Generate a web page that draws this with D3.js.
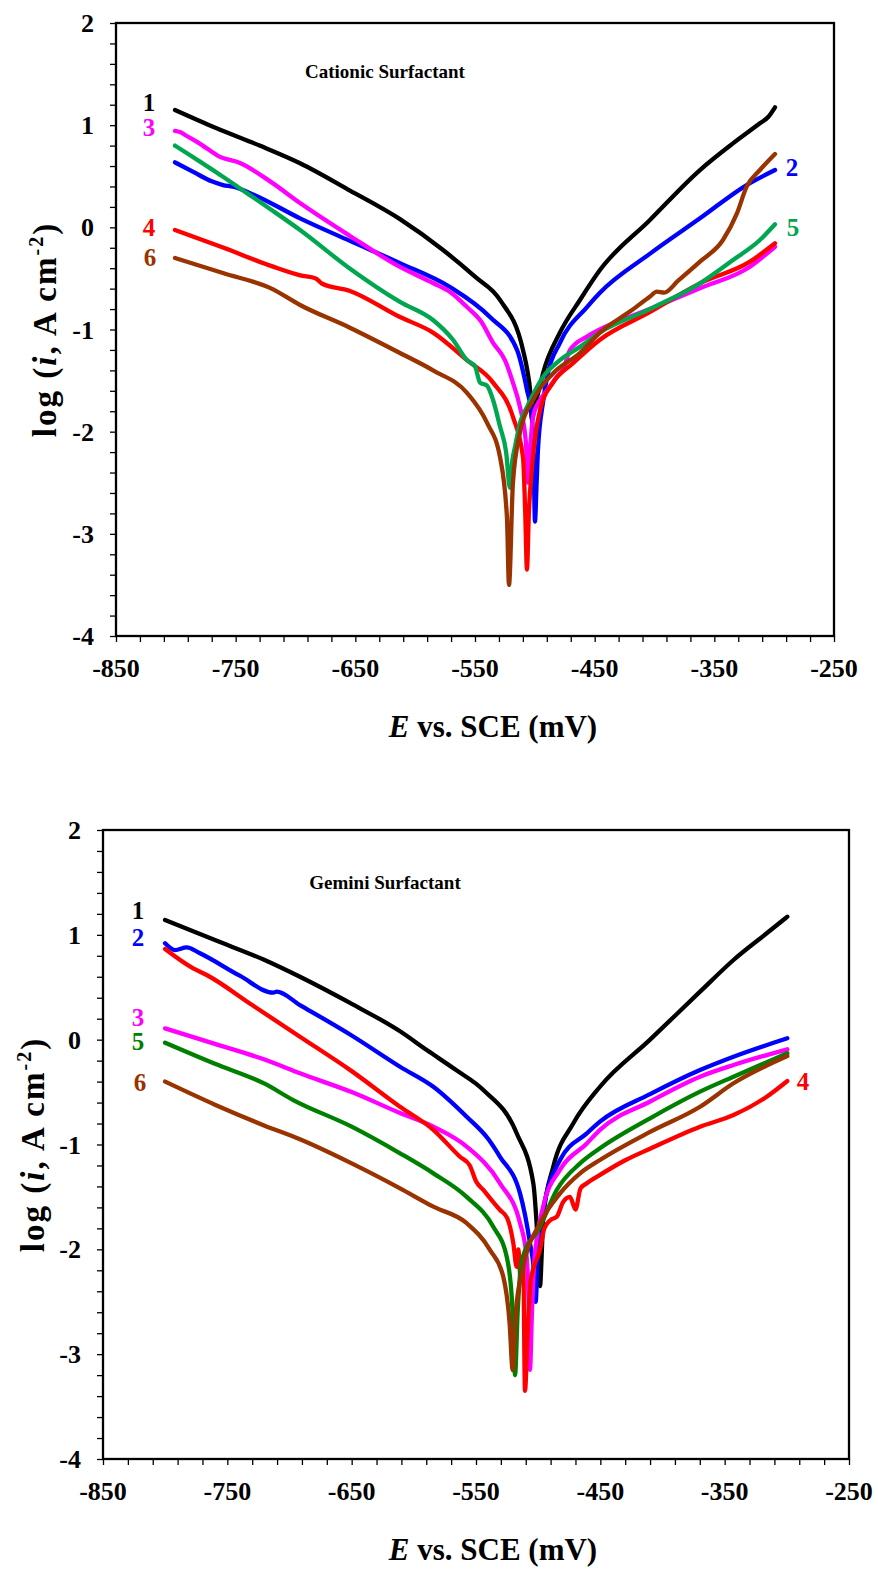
<!DOCTYPE html>
<html><head><meta charset="utf-8">
<script src="https://cdn.jsdelivr.net/npm/d3@7"></script>
<style>body{margin:0;background:#fff}svg{display:block}</style>
</head><body>
<svg id="c" width="878" height="1570"></svg>
<script>
// ---------- DATA ----------
const xTickValues = [-850,-750,-650,-550,-450,-350,-250];
const yTickValues = [2,1,0,-1,-2,-3,-4];
const seriesNames = ["1","2","3","4","5","6"];
const chartTitles = ["Cationic Surfactant","Gemini Surfactant"];

// Cationic surfactant  [E (mV), log i]
const cat1 = [[-800.7,1.148],[-765.9,0.969],[-730,0.80],[-696.2,0.627],[-654.5,0.36],[-612.7,0.08],[-576.7,-0.222],[-550,-0.483],[-529.1,-0.711],[-509.9,-1.2],[-506,-1.42],[-504,-1.59],[-502.4,-1.88],[-500,-1.75],[-495.7,-1.55],[-493.2,-1.43],[-479,-1.03],[-462.3,-0.711],[-445.6,-0.418],[-404,0.07],[-362,0.561],[-334.4,0.822],[-311.9,1.018],[-305,1.08],[-299.3,1.175]];
const cat2 = [[-800.7,0.636],[-785,0.54],[-770,0.45],[-760.6,0.414],[-752.2,0.398],[-735,0.32],[-696.2,0.088],[-655,-0.13],[-612.7,-0.35],[-570.9,-0.584],[-537.5,-0.878],[-514.9,-1.2],[-506.6,-1.59],[-502.4,-1.856],[-500.8,-2.4],[-499.9,-2.88],[-498.5,-2.5],[-497.4,-2.18],[-493,-1.7],[-489.8,-1.465],[-479,-1.13],[-456.4,-0.78],[-445.6,-0.64],[-404,-0.26],[-362,0.088],[-323,0.414],[-299.3,0.561]];
const cat3 = [[-800.7,0.943],[-796,0.93],[-792.3,0.904],[-780,0.82],[-763.1,0.69],[-746.4,0.63],[-720,0.44],[-696.2,0.238],[-655,-0.08],[-612.7,-0.388],[-585.1,-0.545],[-570,-0.64],[-556.7,-0.78],[-545,-0.92],[-534.9,-1.13],[-525,-1.30],[-518.3,-1.52],[-512.4,-1.76],[-507.5,-2.1],[-505.7,-2.5],[-503.5,-2.1],[-501.5,-1.85],[-495.7,-1.69],[-490,-1.60],[-481.5,-1.46],[-476,-1.38],[-470.6,-1.2],[-456.4,-1.07],[-445.6,-1.0],[-404,-0.80],[-362,-0.597],[-320.2,-0.385],[-299.3,-0.19]];
const cat4 = [[-800.7,-0.026],[-760,-0.2],[-720,-0.38],[-696,-0.47],[-683,-0.50],[-678,-0.55],[-655,-0.62],[-612.7,-0.878],[-585.1,-1.03],[-556.7,-1.3],[-534.9,-1.52],[-518.3,-1.856],[-509.9,-2.25],[-508,-2.8],[-506.6,-3.35],[-505,-2.8],[-502.4,-2.35],[-495.7,-1.79],[-484.8,-1.52],[-468.1,-1.33],[-445.6,-1.1],[-404,-0.83],[-362,-0.548],[-320.2,-0.336],[-299.3,-0.156]];
const cat5 = [[-800.7,0.80],[-790,0.72],[-779.8,0.643],[-760,0.49],[-740,0.33],[-720,0.17],[-696.2,-0.026],[-655,-0.40],[-612.7,-0.73],[-585.1,-0.907],[-568.4,-1.1],[-556.7,-1.3],[-550,-1.36],[-545.8,-1.52],[-540,-1.55],[-534.9,-1.69],[-529.1,-1.95],[-524,-2.2],[-520.8,-2.55],[-519,-2.3],[-516.6,-2.15],[-512,-1.9],[-506.6,-1.76],[-493.2,-1.465],[-479,-1.3],[-462.3,-1.17],[-445.6,-1.03],[-404,-0.80],[-362,-0.548],[-334.4,-0.32],[-311.9,-0.124],[-299.3,0.03]];
const cat6 = [[-800.7,-0.30],[-760,-0.45],[-720,-0.60],[-696.2,-0.76],[-655,-0.98],[-612.7,-1.23],[-585.1,-1.40],[-556.7,-1.62],[-539.9,-1.915],[-529.1,-2.25],[-523.3,-2.84],[-521.6,-3.5],[-518.3,-2.5],[-512.4,-2.01],[-501.5,-1.69],[-484.8,-1.43],[-462.3,-1.23],[-445.6,-1.03],[-420,-0.82],[-404,-0.68],[-398,-0.63],[-392,-0.64],[-380,-0.52],[-362,-0.336],[-342.8,-0.124],[-331.1,0.137],[-323,0.398],[-311.9,0.561],[-299.3,0.718]];

// Gemini surfactant
const gem1 = [[-800.1,1.141],[-760,0.95],[-720,0.76],[-691.6,0.60],[-651.3,0.35],[-611.1,0.08],[-589.6,-0.099],[-566,-0.29],[-544.1,-0.48],[-517.3,-0.893],[-503.9,-1.37],[-500.5,-1.9],[-498.5,-2.35],[-497,-2.0],[-495.9,-1.69],[-487.8,-1.21],[-471.7,-0.798],[-450.3,-0.449],[-410,0.0],[-369.8,0.458],[-342.9,0.76],[-316.2,1.015],[-299.6,1.173]];
const gem2 = [[-800.1,0.919],[-792.1,0.855],[-782.7,0.881],[-772,0.824],[-740,0.61],[-713,0.448],[-710.3,0.458],[-691.6,0.33],[-650,0.04],[-611.1,-0.258],[-584.3,-0.449],[-557.5,-0.735],[-540,-0.95],[-530.7,-1.117],[-514.6,-1.466],[-506.6,-1.94],[-503.5,-2.2],[-502,-2.5],[-500.5,-2.1],[-495.9,-1.625],[-482.4,-1.148],[-460.9,-0.894],[-450.3,-0.782],[-410,-0.52],[-369.8,-0.29],[-342.9,-0.163],[-299.6,0.013]];
const gem3 = [[-800.1,0.108],[-760,-0.04],[-720,-0.19],[-691.6,-0.321],[-650,-0.50],[-611.1,-0.70],[-584.3,-0.83],[-557.5,-1.02],[-530.7,-1.37],[-514.6,-1.75],[-509.3,-2.07],[-507.5,-2.6],[-506.6,-3.15],[-505,-2.6],[-503,-2.1],[-495.9,-1.59],[-482.4,-1.24],[-460.9,-0.99],[-450.3,-0.86],[-410,-0.59],[-369.8,-0.353],[-342.9,-0.242],[-299.6,-0.092]];
const gem4 = [[-800.1,0.865],[-777.4,0.68],[-766.6,0.617],[-730,0.33],[-691.6,0.028],[-650,-0.30],[-611.1,-0.64],[-584.3,-0.86],[-562.9,-1.117],[-555,-1.2],[-550,-1.35],[-544.1,-1.434],[-530.7,-1.625],[-525,-1.7],[-520,-1.94],[-517.3,-2.166],[-516,-2.0],[-514,-2.3],[-512,-2.15],[-510.6,-3.35],[-508.5,-2.8],[-506,-2.3],[-498.5,-2.0],[-495,-1.8],[-490,-1.72],[-485.1,-1.69],[-480,-1.55],[-474.4,-1.50],[-470,-1.62],[-466,-1.42],[-460.9,-1.37],[-450.3,-1.29],[-430,-1.15],[-410,-1.04],[-369.8,-0.83],[-342.9,-0.719],[-316.2,-0.544],[-299.6,-0.394]];
const gem5 = [[-800.1,-0.029],[-760,-0.23],[-720,-0.42],[-697,-0.576],[-650,-0.83],[-611.1,-1.084],[-584.3,-1.275],[-557.5,-1.50],[-536.1,-1.785],[-525.3,-2.07],[-521,-2.5],[-518.6,-3.2],[-516.5,-2.6],[-513,-2.1],[-498.5,-1.785],[-485.1,-1.434],[-466.3,-1.18],[-450.3,-1.036],[-410,-0.75],[-369.8,-0.496],[-342.9,-0.353],[-299.6,-0.13]];
const gem6 = [[-800.1,-0.40],[-760,-0.62],[-720,-0.82],[-691.6,-0.95],[-650,-1.18],[-611.1,-1.418],[-584.3,-1.593],[-557.5,-1.75],[-538.7,-2.007],[-528.1,-2.26],[-523,-2.7],[-520.5,-3.15],[-518,-2.6],[-512,-2.166],[-498.5,-1.75],[-482.4,-1.466],[-466.3,-1.275],[-450.3,-1.148],[-410,-0.88],[-369.8,-0.64],[-342.9,-0.416],[-299.6,-0.156]];

// ---------- STYLE ----------
const colorsTop = ["#000000","#0000ff","#ff00ff","#ff0000","#00a650","#993300"];
const colorsBot = ["#000000","#0000ff","#ff00ff","#ff0000","#008000","#993300"];
const FONT = "'Liberation Serif','Times New Roman',serif";

const svg = d3.select("#c");

function drawChart(o){
  const g = svg.append("g");
  const x = d3.scaleLinear().domain([-850,-250]).range([o.left,o.right]);
  const y = d3.scaleLinear().domain([-4,2]).range([o.bottom,o.top]);

  const xAxis = d3.axisBottom(x).tickValues(d3.range(-850,-249,20)).tickSize(6).tickFormat("");
  g.append("g").attr("transform",`translate(0,${o.bottom})`).call(xAxis)
    .call(s=>{s.select(".domain").remove();s.selectAll("line").attr("stroke","#000").attr("stroke-width",1.3);});
  const yAxis = d3.axisLeft(y).tickValues(d3.range(-4,2.01,0.2)).tickSize(6).tickFormat("");
  g.append("g").attr("transform",`translate(${o.left},0)`).call(yAxis)
    .call(s=>{s.select(".domain").remove();s.selectAll("line").attr("stroke","#000").attr("stroke-width",1.3);});

  g.selectAll(".xl").data(xTickValues).enter().append("text")
    .attr("x",d=>x(d)).attr("y",o.bottom+41).attr("text-anchor","middle")
    .attr("font-family",FONT).attr("font-weight","bold").attr("font-size",26).text(d=>d);
  g.selectAll(".yl").data(yTickValues).enter().append("text")
    .attr("x",o.left-22).attr("y",d=>y(d)+9).attr("text-anchor","end")
    .attr("font-family",FONT).attr("font-weight","bold").attr("font-size",26).text(d=>d);

  g.append("rect").attr("x",o.left).attr("y",o.top).attr("width",o.right-o.left).attr("height",o.bottom-o.top)
    .attr("fill","none").attr("stroke","#000").attr("stroke-width",2.3);

  const line = d3.line().x(d=>x(d[0])).y(d=>y(d[1])).curve(d3.curveMonotoneX);
  o.series.forEach((s,i)=>{
    g.append("path").attr("d",line(s)).attr("fill","none").attr("stroke",o.colors[i])
      .attr("stroke-width",4.3).attr("stroke-linejoin","round").attr("stroke-linecap","round");
  });

  o.labels.forEach(l=>{
    g.append("text").attr("x",l[1]).attr("y",l[2]+8).attr("text-anchor","middle")
      .attr("font-family",FONT).attr("font-weight","bold").attr("font-size",25)
      .attr("fill",o.colors[seriesNames.indexOf(l[0])]).text(l[0]);
  });

  g.append("text").attr("x",o.titleX).attr("y",o.titleY).attr("text-anchor","middle")
    .attr("font-family",FONT).attr("font-weight","bold").attr("font-size",19).text(o.title);

  const xt = g.append("text").attr("x",493).attr("y",o.bottom+101).attr("text-anchor","middle")
    .attr("font-family",FONT).attr("font-weight","bold").attr("font-size",31);
  xt.append("tspan").attr("font-style","italic").text("E");
  xt.append("tspan").text(" vs. SCE (mV)");

  const cy = (o.top+o.bottom)/2;
  const yt = g.append("text").attr("transform",`translate(${o.ytX},${cy}) rotate(-90)`).attr("text-anchor","middle")
    .attr("font-family",FONT).attr("font-weight","bold").attr("font-size",33).attr("letter-spacing",2);
  yt.append("tspan").text("log (");
  yt.append("tspan").attr("font-style","italic").text("i");
  yt.append("tspan").text(", A cm");
  yt.append("tspan").attr("font-size",20).attr("dy",-13).text("-2");
  yt.append("tspan").attr("dy",13).text(")");
}

drawChart({left:116,right:834,top:23,bottom:636,series:[cat1,cat2,cat3,cat4,cat5,cat6],colors:colorsTop,
  title:chartTitles[0],titleX:385,titleY:78,ytX:56,
  labels:[["1",149,103],["3",149,128],["4",149,228],["6",150,258],["2",792,168],["5",793,228]]});
drawChart({left:103,right:849,top:830,bottom:1459,series:[gem1,gem2,gem3,gem4,gem5,gem6],colors:colorsBot,
  title:chartTitles[1],titleX:385,titleY:889,ytX:44,
  labels:[["1",138,911],["2",138,938],["3",138,1018],["5",138,1042],["6",140,1083],["4",803,1082]]});
</script>
</body></html>
